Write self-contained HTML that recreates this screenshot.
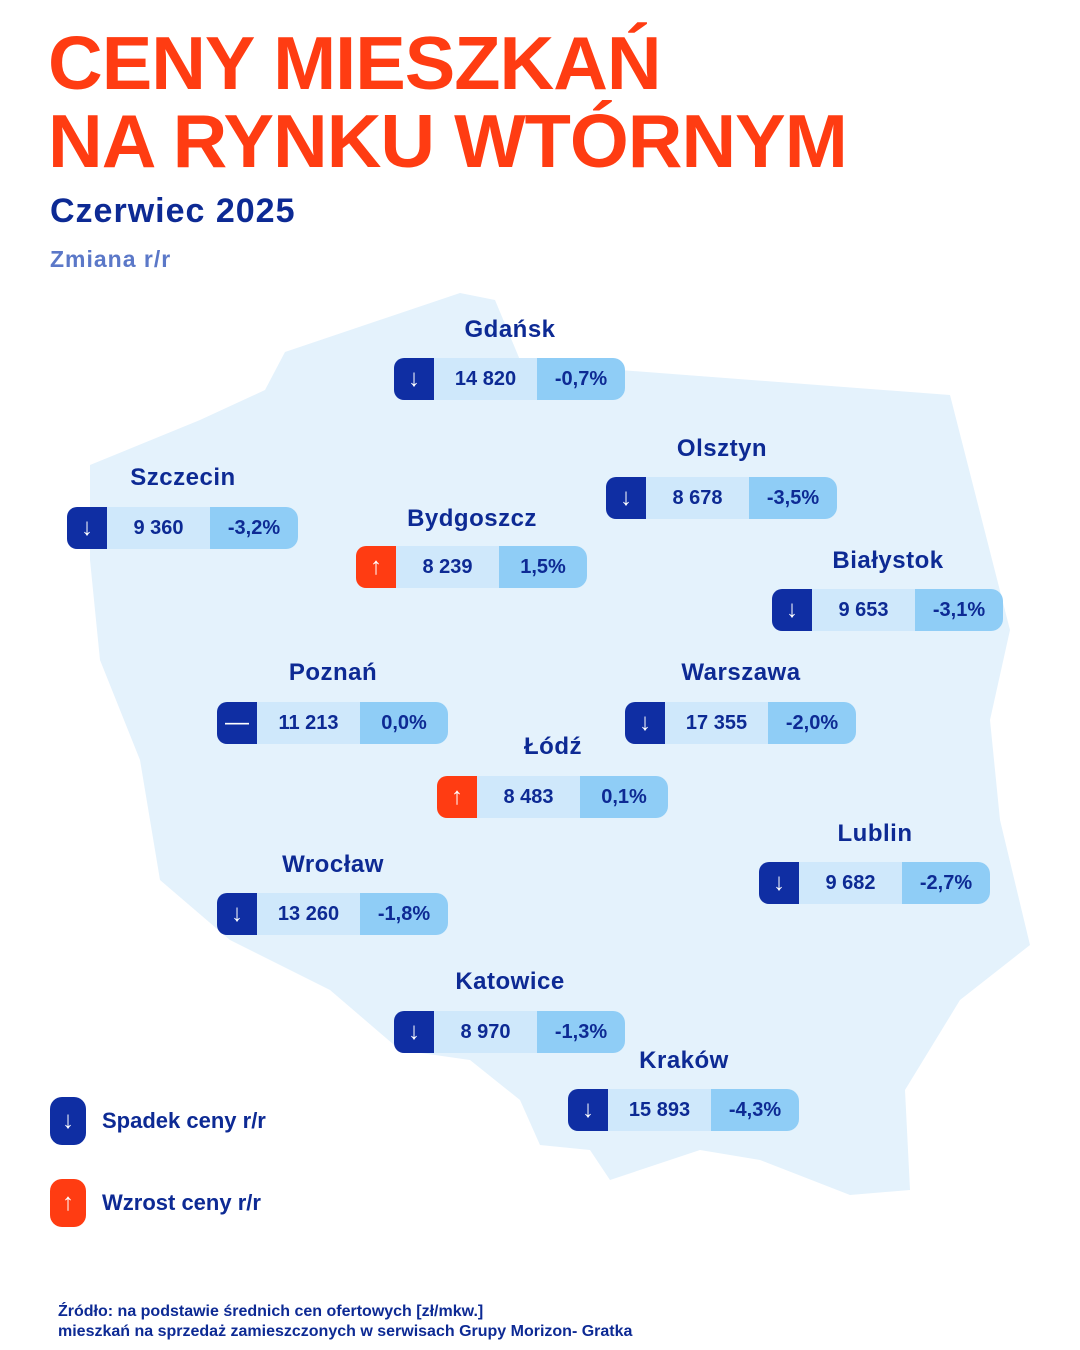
<!DOCTYPE html><html><head><meta charset="utf-8"><style>
body{margin:0;width:1080px;height:1350px;background:#fff;position:relative;overflow:hidden;font-family:"Liberation Sans",sans-serif}
.t{position:absolute;left:48px;color:#ff3c12;font-weight:900;font-size:75px;letter-spacing:-1px;line-height:1;transform:scaleX(1.01);transform-origin:left}
.c{position:absolute;width:232px;text-align:center;color:#0d2a94;font-weight:bold;font-size:24px;letter-spacing:0.5px}
.p{position:absolute;height:42px;width:231px;display:flex;font-weight:bold;font-size:20px;color:#0d2a94}
.p .i{width:40px;background:#0f2ea3;border-radius:10px 0 0 10px;color:#fff;display:flex;align-items:center;justify-content:center;font-size:24px;font-weight:normal}
.p .i.u{background:#ff3c12}
.p .m{width:103px;background:#cfe8fb;display:flex;align-items:center;justify-content:center}
.p .r{width:88px;background:#8fcdf6;border-radius:0 12px 12px 0;display:flex;align-items:center;justify-content:center}
.lg{position:absolute;left:50px;width:36px;height:48px;border-radius:12px;color:#fff;display:flex;align-items:center;justify-content:center;font-size:24px}
.lt{position:absolute;left:102px;color:#0d2a94;font-weight:bold;font-size:22px}
</style></head><body>
<svg style="position:absolute;left:0;top:0" width="1080" height="1350"><polygon fill="#e4f2fc" points="285,352 460,293 495,300 520,360 620,370 950,395 1010,630 990,720 1000,820 1030,945 960,1000 905,1090 910,1190 850,1195 760,1160 700,1150 610,1180 590,1150 540,1145 520,1100 470,1060 400,1050 330,990 230,940 160,880 140,760 100,660 90,560 90,465 200,420 265,390"/></svg>
<div class="t" style="top:26px">CENY MIESZKAŃ</div>
<div class="t" style="top:104px">NA RYNKU WTÓRNYM</div>
<div style="position:absolute;left:50px;top:192px;color:#0d2a94;font-weight:bold;font-size:34px;letter-spacing:1px">Czerwiec 2025</div>
<div style="position:absolute;left:50px;top:246px;color:#5b78c8;font-weight:bold;font-size:23px;letter-spacing:1px">Zmiana r/r</div>

<div class="c" style="left:394px;top:316px">Gdańsk</div>
<div class="p" style="left:394px;top:358px"><div class="i">↓</div><div class="m">14 820</div><div class="r">-0,7%</div></div>
<div class="c" style="left:67px;top:464px">Szczecin</div>
<div class="p" style="left:67px;top:507px"><div class="i">↓</div><div class="m">9 360</div><div class="r">-3,2%</div></div>
<div class="c" style="left:606px;top:435px">Olsztyn</div>
<div class="p" style="left:606px;top:477px"><div class="i">↓</div><div class="m">8 678</div><div class="r">-3,5%</div></div>
<div class="c" style="left:356px;top:505px">Bydgoszcz</div>
<div class="p" style="left:356px;top:546px"><div class="i u">↑</div><div class="m">8 239</div><div class="r">1,5%</div></div>
<div class="c" style="left:772px;top:547px">Białystok</div>
<div class="p" style="left:772px;top:589px"><div class="i">↓</div><div class="m">9 653</div><div class="r">-3,1%</div></div>
<div class="c" style="left:217px;top:659px">Poznań</div>
<div class="p" style="left:217px;top:702px"><div class="i">—</div><div class="m">11 213</div><div class="r">0,0%</div></div>
<div class="c" style="left:625px;top:659px">Warszawa</div>
<div class="p" style="left:625px;top:702px"><div class="i">↓</div><div class="m">17 355</div><div class="r">-2,0%</div></div>
<div class="c" style="left:437px;top:733px">Łódź</div>
<div class="p" style="left:437px;top:776px"><div class="i u">↑</div><div class="m">8 483</div><div class="r">0,1%</div></div>
<div class="c" style="left:759px;top:820px">Lublin</div>
<div class="p" style="left:759px;top:862px"><div class="i">↓</div><div class="m">9 682</div><div class="r">-2,7%</div></div>
<div class="c" style="left:217px;top:851px">Wrocław</div>
<div class="p" style="left:217px;top:893px"><div class="i">↓</div><div class="m">13 260</div><div class="r">-1,8%</div></div>
<div class="c" style="left:394px;top:968px">Katowice</div>
<div class="p" style="left:394px;top:1011px"><div class="i">↓</div><div class="m">8 970</div><div class="r">-1,3%</div></div>
<div class="c" style="left:568px;top:1047px">Kraków</div>
<div class="p" style="left:568px;top:1089px"><div class="i">↓</div><div class="m">15 893</div><div class="r">-4,3%</div></div>

<div class="lg" style="top:1097px;background:#0f2ea3">↓</div>
<div class="lt" style="top:1108px">Spadek ceny r/r</div>
<div class="lg" style="top:1179px;background:#ff3c12">↑</div>
<div class="lt" style="top:1190px">Wzrost ceny r/r</div>
<div style="position:absolute;left:58px;top:1302px;color:#0d2a94;font-weight:bold;font-size:16px;line-height:20px">Źródło: na podstawie średnich cen ofertowych [zł/mkw.]<br>mieszkań na sprzedaż zamieszczonych w serwisach Grupy Morizon- Gratka</div>
</body></html>
